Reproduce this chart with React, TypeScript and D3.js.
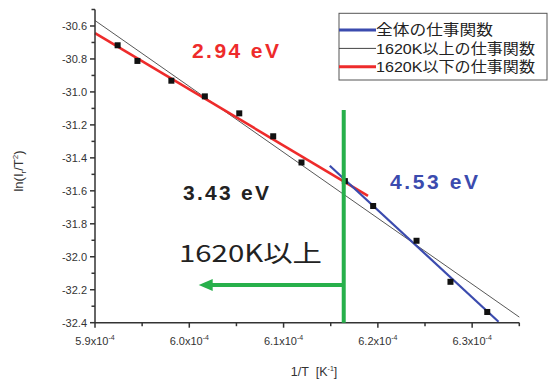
import React from 'react';
import * as d3 from 'd3';

// measured points (1/T in K^-1, ln(I/T^2))
const invT = [
  5.924e-4, 5.945e-4, 5.981e-4, 6.0165e-4, 6.053e-4, 6.089e-4,
  6.119e-4, 6.165e-4, 6.195e-4, 6.241e-4, 6.277e-4, 6.316e-4,
];
const lnIT2 = [
  -30.717, -30.812, -30.932, -31.027, -31.13, -31.269,
  -31.428, -31.541, -31.692, -31.903, -32.152, -32.335,
];

// fitted lines, [x, y] end points
const allFit: [number, number][] = [[5.9e-4, -30.567], [6.35e-4, -32.366]];
const lowFit: [number, number][] = [[5.9e-4, -30.644], [6.1895e-4, -31.63]];
const highFit: [number, number][] = [[6.149e-4, -31.448], [6.328e-4, -32.394]];

// green marker at 1620K
const markerX = 6.1638e-4;
const markerTop = -31.11;
const arrowY = -32.172;
const arrowEndX = 6.01e-4;

const xMajor = [5.9e-4, 6.0e-4, 6.1e-4, 6.2e-4, 6.3e-4];
const xTickLabels = ['5.9', '6.0', '6.1', '6.2', '6.3'];
const xMinor = [5.95e-4, 6.05e-4, 6.15e-4, 6.25e-4, 6.35e-4];
const yMajor = [-32.4, -32.2, -32.0, -31.8, -31.6, -31.4, -31.2, -31.0, -30.8, -30.6];
const yMinor = [-32.3, -32.1, -31.9, -31.7, -31.5, -31.3, -31.1, -30.9, -30.7, -30.5];

const legendItems = [
  { label: '全体の仕事関数', color: '#3b4bae', w: 3, len: 117 },
  { label: '1620K以上の仕事関数', color: '#444', w: 1, len: 159 },
  { label: '1620K以下の仕事関数', color: '#ee2b2b', w: 3, len: 159 },
];

const W = 548;
const H = 380;
const margin = { top: 9.5, right: 28.7, bottom: 57.3, left: 95 };

const sans = '"Liberation Sans", Arial, sans-serif';
const jp = '"Noto Sans CJK JP", sans-serif';
const legendFont = '"Liberation Sans", "Noto Sans CJK JP", sans-serif';

export default function App() {
  const x = d3.scaleLinear().domain([5.9e-4, 6.35e-4]).range([margin.left, W - margin.right]);
  const y = d3.scaleLinear().domain([-32.4, -30.5]).range([H - margin.bottom, margin.top]);
  const line = d3.line<[number, number]>().x(d => x(d[0])).y(d => y(d[1]));

  const axisY = y(-32.4);
  const axisX = x(5.9e-4);
  const axisColor = '#333';

  const ax = x(arrowEndX);
  const ay = y(arrowY);

  return (
    <svg width={W} height={H} style={{ position: 'absolute', left: 0, top: 0, background: '#fff' }}>
      {/* fits */}
      <path d={line(allFit) || ''} fill="none" stroke="#444" strokeWidth={0.9} />
      <path d={line(lowFit) || ''} fill="none" stroke="#ee2b2b" strokeWidth={2.6} />
      <path d={line(highFit) || ''} fill="none" stroke="#3b4bae" strokeWidth={2.2} />

      {/* points */}
      {invT.map((v, i) => (
        <rect key={i} x={x(v) - 3} y={y(lnIT2[i]) - 3} width={6} height={6} fill="#111" />
      ))}

      {/* axes */}
      <line x1={axisX} x2={x(6.35e-4)} y1={axisY} y2={axisY} stroke={axisColor} strokeWidth={1.5} />
      <line x1={axisX} x2={axisX} y1={axisY} y2={y(-30.5)} stroke={axisColor} strokeWidth={1.5} />
      {xMajor.map((v, i) => (
        <g key={'xm' + i}>
          <line x1={x(v)} x2={x(v)} y1={axisY} y2={axisY + 5} stroke={axisColor} strokeWidth={1.5} />
          <text x={x(v)} y={axisY + 22} textAnchor="middle" fontFamily={sans} fontSize={11} fill="#333">
            {xTickLabels[i]}x10<tspan dy={-5} fontSize={7}>-4</tspan>
          </text>
        </g>
      ))}
      {xMinor.map((v, i) => (
        <line key={'xn' + i} x1={x(v)} x2={x(v)} y1={axisY} y2={axisY + 3.5} stroke={axisColor} strokeWidth={1.5} />
      ))}
      {yMajor.map((v, i) => (
        <g key={'ym' + i}>
          <line x1={axisX - 5} x2={axisX} y1={y(v)} y2={y(v)} stroke={axisColor} strokeWidth={1.5} />
          <text x={axisX - 8} y={y(v)} dy="0.35em" textAnchor="end" fontFamily={sans} fontSize={11} fill="#333">
            {v.toFixed(1)}
          </text>
        </g>
      ))}
      {yMinor.map((v, i) => (
        <line key={'yn' + i} x1={axisX - 3.5} x2={axisX} y1={y(v)} y2={y(v)} stroke={axisColor} strokeWidth={1.5} />
      ))}

      {/* axis titles */}
      <text x={314} y={376} textAnchor="middle" fontFamily={sans} fontSize={12.5} fill="#333">
        1/T{'\u00a0\u00a0'}[K<tspan dy={-5} fontSize={7}>-1</tspan><tspan dy={5}>]</tspan>
      </text>
      <text transform="translate(23,171) rotate(-90)" textAnchor="middle" fontFamily={sans} fontSize={13} fill="#333">
        ln(I<tspan dy={3} fontSize={8}>r</tspan><tspan dy={-3}>/T</tspan><tspan dy={-5} fontSize={8}>2</tspan><tspan dy={5}>)</tspan>
      </text>

      {/* annotations */}
      <text x={192} y={58.3} fontFamily={sans} fontWeight="bold" fontSize={21} fill="#ee2b2b" textLength={87} lengthAdjust="spacing">2.94 eV</text>
      <text x={390} y={188.7} fontFamily={sans} fontWeight="bold" fontSize={21} fill="#3b4bae" textLength={88} lengthAdjust="spacing">4.53 eV</text>
      <text x={183} y={200} fontFamily={sans} fontWeight="bold" fontSize={21} fill="#222" textLength={86} lengthAdjust="spacing">3.43 eV</text>
      <text x={179} y={261.5} fontFamily={jp} fontSize={24} fill="#222" textLength={143} lengthAdjust="spacingAndGlyphs">1620K以上</text>

      {/* green marker */}
      <line x1={x(markerX)} x2={x(markerX)} y1={y(markerTop)} y2={axisY} stroke="#27b04b" strokeWidth={4} />
      <line x1={ax + 12} x2={x(markerX)} y1={ay} y2={ay} stroke="#27b04b" strokeWidth={4} />
      <path d={`M${ax},${ay} L${ax + 14},${ay - 6} L${ax + 14},${ay + 6} Z`} fill="#27b04b" />

      {/* legend */}
      <rect x={339} y={13.3} width={208} height={66.7} fill="#fff" stroke="#555" strokeWidth={1} />
      {legendItems.map((d, i) => {
        const ly = 30 + i * 18.4;
        return (
          <g key={'lg' + i}>
            <line x1={339} x2={376} y1={ly} y2={ly} stroke={d.color} strokeWidth={d.w} />
            <text x={376} y={ly} dy="0.36em" fontFamily={legendFont} fontSize={14.5} fill="#222"
              textLength={d.len} lengthAdjust="spacingAndGlyphs">{d.label}</text>
          </g>
        );
      })}
    </svg>
  );
}
